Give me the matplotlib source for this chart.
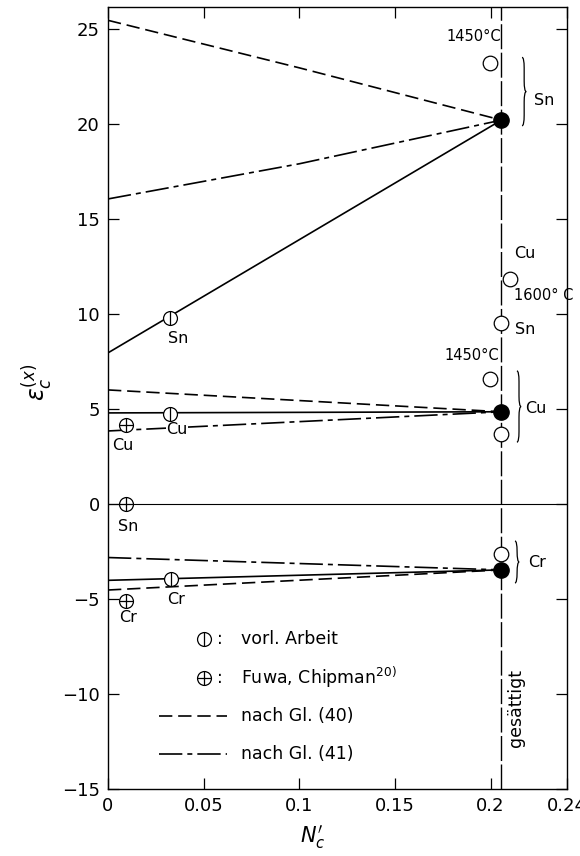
import numpy as np
import matplotlib
matplotlib.use('Agg')
import matplotlib.pyplot as plt
from matplotlib.path import Path
from matplotlib.patches import PathPatch

plt.rcParams.update({'font.family': 'DejaVu Sans', 'font.size': 12})

# saturation concentration (vertical line)
x_sat = 0.2057

# Sn
sn_x = [0, x_sat]
sn_y = [7.95, 20.2]
sn40_x = [0, 0.1, x_sat]
sn40_y = [25.45, 22.95, 20.2]
sn41_x = [0, 0.1, x_sat]
sn41_y = [16.05, 17.9, 20.2]

# Cu
cu_x = [0, x_sat]
cu_y = [4.79, 4.85]
cu40_y = [6.0, 4.85]
cu41_y = [3.84, 4.85]

# Cr
cr_x = [0, x_sat]
cr_y = [-4.02, -3.47]
cr40_y = [-4.53, -3.47]
cr41_y = [-2.82, -3.47]

# points
sat_x = [x_sat, x_sat, x_sat]
sat_y = [20.2, 4.85, -3.47]
open_x = [0.1995, 0.2104, 0.2057, 0.1995, 0.2057, 0.2057]
open_y = [23.2, 11.85, 9.5, 6.6, 3.7, -2.63]
vorl_x = [0.0323, 0.0323, 0.0328]
vorl_y = [9.8, 4.75, -3.95]
fuwa_x = [0.0094, 0.0094, 0.0094]
fuwa_y = [4.15, 0.0, -5.1]

xticks = [0, 0.05, 0.1, 0.15, 0.2, 0.24]
xticklabels = ['0', '0.05', '0.1', '0.15', '0.2', '0.24']
yticks = [-15, -10, -5, 0, 5, 10, 15, 20, 25]

dash40 = (0, (8, 3.5))
dash41 = (0, (14, 3, 3, 3))
lw = 1.2

fig = plt.figure(figsize=(5.8, 8.56), dpi=100)
ax = fig.add_axes([0.1862, 0.0783, 0.7914, 0.9135])

ax.axhline(0, color='k', lw=0.8, zorder=1)
ax.axvline(x_sat, color='k', lw=1.0, linestyle=(0, (18, 2.5)), zorder=1)

ax.plot(sn_x, sn_y, 'k-', lw=lw)
ax.plot(sn40_x, sn40_y, 'k', lw=lw, linestyle=dash40)
ax.plot(sn41_x, sn41_y, 'k', lw=lw, linestyle=dash41)
ax.plot(cu_x, cu_y, 'k-', lw=lw)
ax.plot(cu_x, cu40_y, 'k', lw=lw, linestyle=dash40)
ax.plot(cu_x, cu41_y, 'k', lw=lw, linestyle=dash41)
ax.plot(cr_x, cr_y, 'k-', lw=lw)
ax.plot(cr_x, cr40_y, 'k', lw=lw, linestyle=dash40)
ax.plot(cr_x, cr41_y, 'k', lw=lw, linestyle=dash41)

ax.plot(open_x, open_y, 'o', ms=10.5, mfc='white', mec='k', mew=0.9, ls='none', zorder=5)
ax.plot(sat_x, sat_y, 'o', ms=11, mfc='k', mec='k', ls='none', zorder=6)
ax.plot(vorl_x, vorl_y, 'o', ms=10, mfc='white', mec='k', mew=0.9, ls='none', zorder=5)
ax.plot(vorl_x, vorl_y, '|', ms=10, mec='k', mew=0.9, ls='none', zorder=6)
ax.plot(fuwa_x, fuwa_y, 'o', ms=10, mfc='white', mec='k', mew=0.9, ls='none', zorder=5)
ax.plot(fuwa_x, fuwa_y, '+', ms=10, mec='k', mew=0.9, ls='none', zorder=6)

# element labels
fs = 11.5
ax.text(0.0365, 8.7, 'Sn', fontsize=fs, ha='center', va='center')
ax.text(0.036, 3.9, 'Cu', fontsize=fs, ha='center', va='center',
        bbox=dict(facecolor='white', edgecolor='none', pad=0.5), zorder=4)
ax.text(0.008, 3.05, 'Cu', fontsize=fs, ha='center', va='center')
ax.text(0.0104, -1.2, 'Sn', fontsize=fs, ha='center', va='center')
ax.text(0.0354, -5.05, 'Cr', fontsize=fs, ha='center', va='center')
ax.text(0.0104, -6.0, 'Cr', fontsize=fs, ha='center', va='center')

ax.text(0.191, 24.6, '1450°C', fontsize=10.5, ha='center', va='center')
ax.text(0.19, 7.8, '1450°C', fontsize=10.5, ha='center', va='center')
ax.text(0.218, 13.2, 'Cu', fontsize=fs, ha='center', va='center')
ax.text(0.228, 10.95, '1600° C', fontsize=10.5, ha='center', va='center', clip_on=False)
ax.text(0.2128, 9.2, 'Sn', fontsize=fs, ha='left', va='center')


def brace(x, y0, y1, w=0.0022, h=0.55):
    mid = 0.5 * (y0 + y1)
    xm = x + w / 2
    verts = [(x, y1), (xm, y1), (xm, y1 - h), (xm, mid + h),
             (xm, mid), (x + w, mid), (xm, mid), (xm, mid - h),
             (xm, y0 + h), (xm, y0), (x, y0)]
    codes = [Path.MOVETO, Path.CURVE3, Path.CURVE3, Path.LINETO,
             Path.CURVE3, Path.CURVE3, Path.CURVE3, Path.CURVE3,
             Path.LINETO, Path.CURVE3, Path.CURVE3]
    ax.add_patch(PathPatch(Path(verts, codes), fill=False, lw=0.9, ec='k'))


brace(0.2165, 19.9, 23.5)
ax.text(0.2225, 21.25, 'Sn', fontsize=fs, ha='left', va='center')
brace(0.2138, 3.25, 7.0)
ax.text(0.2183, 5.0, 'Cu', fontsize=fs, ha='left', va='center')
brace(0.2128, -4.16, -1.95)
ax.text(0.2195, -3.1, 'Cr', fontsize=fs, ha='left', va='center')

ax.text(0.2135, -10.75, 'gesättigt', fontsize=12.5, rotation=90, ha='center', va='center')

# legend
lfs = 12.5
ax.plot([0.05], [-7.1], 'o', ms=10, mfc='white', mec='k', mew=0.9)
ax.plot([0.05], [-7.1], '|', ms=10, mec='k', mew=0.9)
ax.text(0.0585, -7.1, ':', fontsize=lfs, ha='center', va='center')
ax.text(0.0698, -7.1, 'vorl. Arbeit', fontsize=lfs, ha='left', va='center')
ax.plot([0.05], [-9.15], 'o', ms=10, mfc='white', mec='k', mew=0.9)
ax.plot([0.05], [-9.15], '+', ms=10, mec='k', mew=0.9)
ax.text(0.0585, -9.15, ':', fontsize=lfs, ha='center', va='center')
ax.text(0.0698, -9.15, 'Fuwa, Chipman$^{20)}$', fontsize=lfs, ha='left', va='center')
ax.plot([0.0266, 0.062], [-11.15, -11.15], 'k', lw=lw, linestyle=dash40)
ax.text(0.0698, -11.15, 'nach Gl. (40)', fontsize=lfs, ha='left', va='center')
ax.plot([0.0266, 0.062], [-13.15, -13.15], 'k', lw=lw, linestyle=dash41)
ax.text(0.0698, -13.15, 'nach Gl. (41)', fontsize=lfs, ha='left', va='center')

ax.set_xlim(0, 0.24)
ax.set_ylim(-15, 26.15)
ax.set_xticks(xticks)
ax.set_xticklabels(xticklabels)
ax.set_yticks(yticks)
ax.tick_params(direction='in', length=8, width=0.9, top=True, right=True, labelsize=13, pad=6)
for s in ax.spines.values():
    s.set_linewidth(1.0)

ax.set_ylabel(r'$\varepsilon_c^{(x)}$', fontsize=17, rotation=90)
ax.yaxis.set_label_coords(-0.115, 0.52)
ax.set_xlabel(r"$N_c'$", fontsize=15)
ax.xaxis.set_label_coords(0.447, -0.043)

fig.savefig('out.png', dpi=100)
